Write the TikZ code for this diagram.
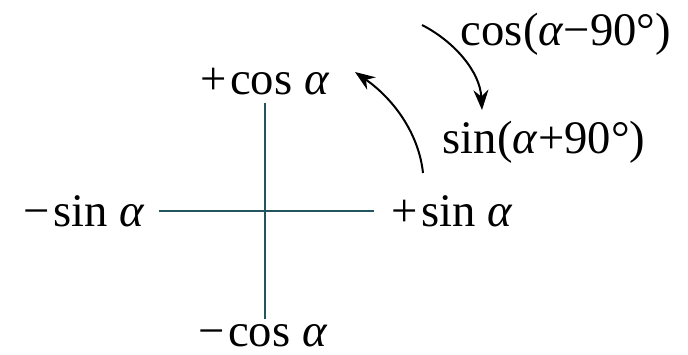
\documentclass[tikz,border=0pt]{standalone}
\usepackage{fontspec}
\setmainfont{Liberation Serif}
\usetikzlibrary{arrows.meta}
\definecolor{axisteal}{RGB}{35,85,95}
\newcommand{\al}{\textit{α}}

\begin{document}
\begin{tikzpicture}[
    x=0.3pt, y=-0.3pt,
    lbl/.style  = {inner sep=1pt, font=\fontsize{14}{16}\selectfont},
    axis/.style = {draw=axisteal, line width=0.5pt},
    turn/.style = {-{Stealth[length=6pt, width=4.5pt]}, line width=0.6pt},
  ]
  \useasboundingbox (0,0) rectangle (688,355);

  \node[lbl] (pcos) at (265,82)  {+\kern1pt cos \al};
  \node[lbl] (mcos) at (263,336) {−\kern1pt cos \al};
  \node[lbl] (msin) at (84,211)  {−\kern1pt sin \al};
  \node[lbl] (psin) at (452,211) {+\kern1pt sin \al};
  \node[lbl] (cosm) at (566,34)  {cos(\al−90°)};
  \node[lbl] (sinp) at (544,142) {sin(\al+90°)};

  % axes
  \draw[axis, shorten <=3pt, shorten >=4pt] (msin.east) -- (psin.west);
  \draw[axis, shorten <=1pt, shorten >=0.5pt] (pcos.south -| 265,0) -- (mcos.north -| 265,0);

  % rotation arrows
  \coordinate (a1) at (422,25);
  \coordinate (b1) at (482,110);
  \coordinate (a2) at (423,173);
  \coordinate (b2) at (355,72);
  \draw[turn] (a1) .. controls (455,42) and (480,72) .. (b1);
  \draw[turn] (a2) .. controls (419,135) and (395,100) .. (b2);
\end{tikzpicture}
\end{document}
